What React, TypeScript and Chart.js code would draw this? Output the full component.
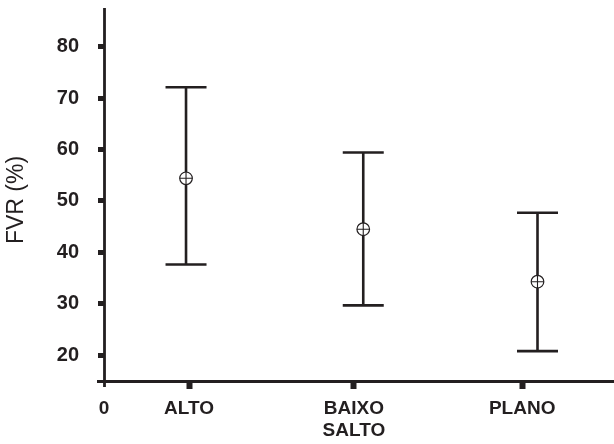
import React, { useEffect, useRef } from "react";
import { Chart, registerables } from "chart.js";

Chart.register(...registerables);

// Categories and their tick positions on the x axis
const categoryLabels: (string | string[])[] = ["0", "ALTO", ["BAIXO", "SALTO"], "PLANO"];
const categoryTickX = [0, 1, 2.94, 4.92];

// Error bar positions and values (FVR %)
const barX = [0.965, 3.05, 5.1];
const meanValues = [54.4, 44.5, 34.3];
const upperValues = [72.1, 59.4, 47.7];
const lowerValues = [37.65, 29.7, 20.8];

// Y tick values
const yTickValues = [20, 30, 40, 50, 60, 70, 80];
const yTitle = "FVR (%)";

const DARK = "#231f20";
const FONT = "'Liberation Sans', Arial, Helvetica, sans-serif";

const errorBarPlugin = {
  id: "errorBars",
  beforeDatasetsDraw(chart: any) {
    const { ctx, scales } = chart;
    const xs = scales.x;
    const ys = scales.y;
    ctx.save();
    ctx.strokeStyle = DARK;
    ctx.lineWidth = 2.6;
    const half = 20.5;
    for (let i = 0; i < barX.length; i++) {
      const px = xs.getPixelForValue(barX[i]);
      const pTop = ys.getPixelForValue(upperValues[i]);
      const pBot = ys.getPixelForValue(lowerValues[i]);
      ctx.beginPath();
      ctx.moveTo(px, pTop);
      ctx.lineTo(px, pBot);
      ctx.moveTo(px - half, pTop);
      ctx.lineTo(px + half, pTop);
      ctx.moveTo(px - half, pBot);
      ctx.lineTo(px + half, pBot);
      ctx.stroke();
    }
    ctx.restore();
  },
};

const axesPlugin = {
  id: "axesLines",
  afterDraw(chart: any) {
    const { ctx, chartArea } = chart;
    ctx.save();
    ctx.strokeStyle = DARK;
    ctx.lineWidth = 2.8;
    ctx.beginPath();
    ctx.moveTo(chartArea.left + 0.5, chartArea.top);
    ctx.lineTo(chartArea.left + 0.5, chartArea.bottom + 6);
    ctx.moveTo(chartArea.left - 7, chartArea.bottom + 0.5);
    ctx.lineTo(chartArea.right, chartArea.bottom + 0.5);
    ctx.stroke();
    // y axis title
    ctx.fillStyle = DARK;
    ctx.font = `normal 23px ${FONT}`;
    ctx.textAlign = "center";
    ctx.textBaseline = "middle";
    ctx.translate(16.5, 200);
    ctx.rotate(-Math.PI / 2);
    ctx.fillText(yTitle, 0, 0);
    ctx.restore();
  },
};

export default function App() {
  const ref = useRef<HTMLCanvasElement | null>(null);

  useEffect(() => {
    if (!ref.current) return;
    const chart = new Chart(ref.current, {
      type: "scatter",
      data: {
        datasets: [
          {
            data: barX.map((x, i) => ({ x, y: meanValues[i] })),
            pointStyle: "cross",
            pointRadius: 6.3,
            pointBorderColor: DARK,
            pointBorderWidth: 1.1,
          },
          {
            data: barX.map((x, i) => ({ x, y: meanValues[i] })),
            pointStyle: "circle",
            pointRadius: 6.3,
            pointBackgroundColor: "#ffffff",
            pointBorderColor: DARK,
            pointBorderWidth: 1.2,
          },
        ],
      },
      options: {
        animation: false,
        responsive: false,
        events: [],
        layout: { autoPadding: false, padding: { top: 8, left: 0, right: 0, bottom: 0 } },
        plugins: {
          legend: { display: false },
          tooltip: { enabled: false },
        },
        scales: {
          x: {
            type: "linear",
            min: 0,
            max: 6,
            afterBuildTicks: (scale: any) => {
              scale.ticks = categoryTickX.map((v) => ({ value: v }));
            },
            afterFit: (scale: any) => {
              scale.height = 63;
              scale.paddingLeft = 0;
              scale.paddingRight = 0;
            },
            border: { display: false },
            grid: {
              drawOnChartArea: false,
              drawTicks: true,
              tickLength: 8,
              tickWidth: 6,
              tickColor: (c: any) => (c.index === 0 ? "rgba(0,0,0,0)" : DARK),
            },
            ticks: {
              autoSkip: false,
              maxRotation: 0,
              minRotation: 0,
              padding: 9.5,
              color: DARK,
              font: { family: FONT, size: 19, weight: "bold", lineHeight: 1.13 },
              callback: (_v: any, i: number) => categoryLabels[i],
            },
          },
          y: {
            type: "linear",
            min: 15,
            max: 87.5,
            afterBuildTicks: (scale: any) => {
              scale.ticks = yTickValues.map((v) => ({ value: v }));
            },
            afterFit: (scale: any) => {
              scale.width = 104;
              scale.paddingTop = 0;
              scale.paddingBottom = 0;
            },
            border: { display: false },
            grid: {
              drawOnChartArea: false,
              drawTicks: true,
              tickLength: 6,
              tickWidth: 5,
              tickColor: DARK,
            },
            ticks: {
              padding: 19,
              color: DARK,
              font: { family: FONT, size: 20, weight: "bold" },
              callback: (v: any) => String(v),
            },
            title: { display: false },
          },
        },
      },
      plugins: [errorBarPlugin, axesPlugin],
    });
    return () => chart.destroy();
  }, []);

  return (
    <div style={{ position: "absolute", left: 0, top: 0, width: 614, height: 444, background: "#fff" }}>
      <canvas ref={ref} width={614} height={444} style={{ display: "block" }} />
    </div>
  );
}
